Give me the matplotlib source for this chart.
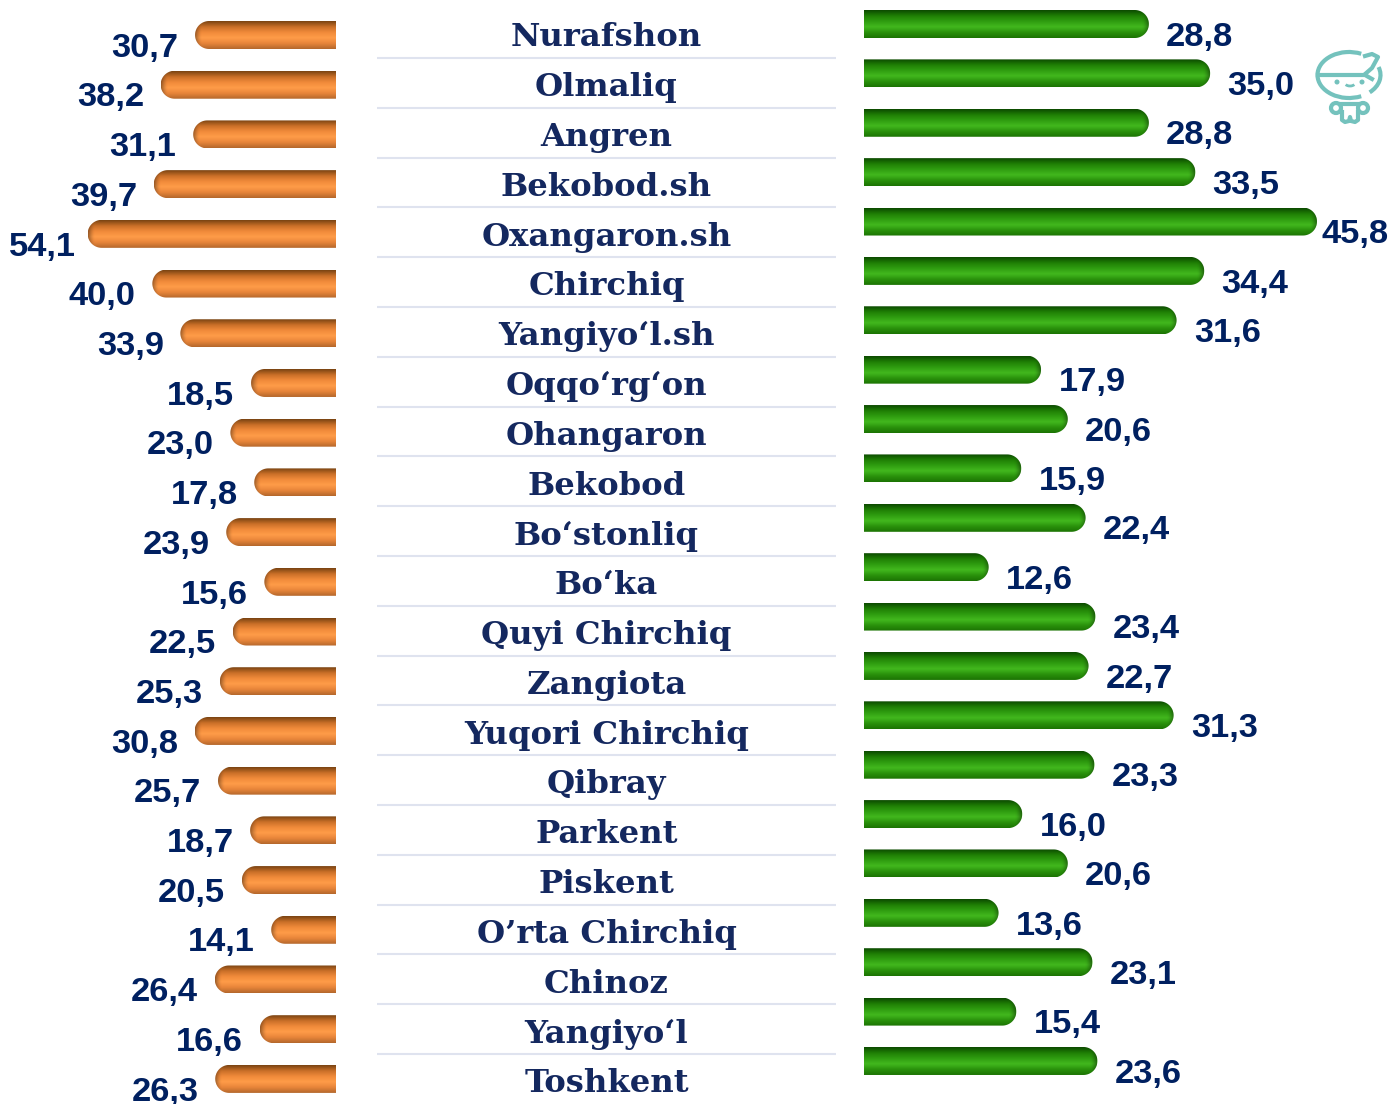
import numpy as np
import matplotlib
matplotlib.use("Agg")
import matplotlib.pyplot as plt
from matplotlib.colors import LinearSegmentedColormap
from matplotlib.patches import Polygon, Circle, Arc

districts = ["Nurafshon", "Olmaliq", "Angren", "Bekobod.sh", "Oxangaron.sh", "Chirchiq",
             "Yangiyo‘l.sh", "Oqqo‘rg‘on", "Ohangaron", "Bekobod", "Bo‘stonliq", "Bo‘ka",
             "Quyi Chirchiq", "Zangiota", "Yuqori Chirchiq", "Qibray", "Parkent", "Piskent",
             "O’rta Chirchiq", "Chinoz", "Yangiyo‘l", "Toshkent"]
left_values = [30.7, 38.2, 31.1, 39.7, 54.1, 40.0, 33.9, 18.5, 23.0, 17.8, 23.9,
               15.6, 22.5, 25.3, 30.8, 25.7, 18.7, 20.5, 14.1, 26.4, 16.6, 26.3]
right_values = [28.8, 35.0, 28.8, 33.5, 45.8, 34.4, 31.6, 17.9, 20.6, 15.9, 22.4,
                12.6, 23.4, 22.7, 31.3, 23.3, 16.0, 20.6, 13.6, 23.1, 15.4, 23.6]

W, H = 1391, 1104
NAVY = "#002060"

orange = LinearSegmentedColormap.from_list("o", ["#7a4412", "#c96f28", "#f08a3a", "#ff9c48", "#e8853a", "#b5682c"])
green = LinearSegmentedColormap.from_list("g", ["#0c4a00", "#1f7f05", "#2f9c10", "#42b81e", "#2a920c", "#1c7403"])
grad = np.linspace(0, 1, 64).reshape(-1, 1)
# darkens the rounded end of a bar
rim = np.zeros((1, 32, 4))
rim[0, :, 3] = np.linspace(0, 0.4, 32) ** 1.5 / 0.4 ** 0.5


def make_axes(x0, x1, xlim, top_y, row):
    ax = fig.add_axes([x0 / W, 0, (x1 - x0) / W, 1])
    ax.axis("off")
    ax.set_xlim(*xlim)
    # y is in row units so that row i sits at top_y + i * row pixels
    ax.set_ylim((H - top_y) / row, -top_y / row)
    return ax


def draw_bars(ax, values, cmap, px_per_unit, row):
    half = 14 / row
    rx = 14 / px_per_unit
    t = np.linspace(-np.pi / 2, np.pi / 2, 40)
    for i, v in enumerate(values):
        # square at the base, semicircle at the outer end
        xs = np.r_[0, v - rx + rx * np.cos(t), 0]
        ys = np.r_[i - half, i + half * np.sin(t), i + half]
        shape = Polygon(np.c_[xs, ys], closed=True, fc="none", ec="none")
        ax.add_patch(shape)
        im = ax.imshow(grad, cmap=cmap, aspect="auto", interpolation="bilinear",
                       extent=(0, v, i + half, i - half))
        im.set_clip_path(shape)
        end = ax.imshow(rim, aspect="auto", interpolation="bilinear",
                        extent=(v - 7 / px_per_unit, v, i + half, i - half))
        end.set_clip_path(shape)


def label(ax, v, i, dx, dy, ha):
    ax.annotate(f"{v:.1f}".replace(".", ","), (v, i), xytext=(dx, dy), textcoords="offset points",
                ha=ha, va="center", fontsize=24.8, fontweight="bold", color=NAVY,
                annotation_clip=False)


fig = plt.figure(figsize=(W / 100, H / 100), dpi=100)
plt.rcParams["font.family"] = ["Liberation Sans"]

# left panel, bars grow leftwards from x=336
LEFT_ROW = 49.71
ax_l = make_axes(0, 336, (336 / 4.59, 0), 35, LEFT_ROW)
draw_bars(ax_l, left_values, orange, 4.59, LEFT_ROW)
ax_l.set_xlim(336 / 4.59, 0)
ax_l.set_ylim((H - 35) / LEFT_ROW, -35 / LEFT_ROW)
for i, v in enumerate(left_values):
    # the longest bar has its label pushed closer
    label(ax_l, v, i, -8.5 if v == max(left_values) else -12, -9.5, "right")

# right panel, bars grow rightwards from x=864
RIGHT_ROW = 49.38
ax_r = make_axes(864, W, (0, (W - 864) / 9.89), 24, RIGHT_ROW)
draw_bars(ax_r, right_values, green, 9.89, RIGHT_ROW)
ax_r.set_xlim(0, (W - 864) / 9.89)
ax_r.set_ylim((H - 24) / RIGHT_ROW, -24 / RIGHT_ROW)
for i, v in enumerate(right_values):
    label(ax_r, v, i, 3 if v == max(right_values) else 12.5, -9.5, "left")

# district names with thin rules between them
NAME_ROW = 49.8
ax_m = make_axes(377, 836, (0, 1), 35, NAME_ROW)
for i, name in enumerate(districts):
    ax_m.text(0.5, i + 0.06, name, ha="center", va="center", fontsize=23.2, fontweight="bold",
              family="DejaVu Serif", color="#14285f")
    if i < len(districts) - 1:
        ax_m.plot([0, 1], [i + 0.46, i + 0.46], color="#dfe3ef", lw=1.5, solid_capstyle="butt")

# small mascot in the top right corner
ax_i = fig.add_axes([0, 0, 1, 1])
ax_i.set_xlim(0, W)
ax_i.set_ylim(H, 0)
ax_i.axis("off")
ax_i.patch.set_alpha(0)
TEAL = "#74c2bd"
ax_i.add_patch(Arc((1349, 75), 63, 46, theta1=60, theta2=300, color=TEAL, lw=3))
ax_i.add_patch(Arc((1349, 75), 63, 46, theta1=-15, theta2=40, color=TEAL, lw=3))
ax_i.plot([1318, 1364, 1372, 1378, 1372, 1365], [75, 75, 68, 57, 54, 56], color=TEAL, lw=3)
ax_i.plot([1365, 1372], [75, 79], color=TEAL, lw=3)
ax_i.add_patch(Arc((1350, 83), 10, 6, theta1=20, theta2=160, color=TEAL, lw=2))
ax_i.add_patch(Circle((1337, 82), 1.8, color=TEAL))
ax_i.add_patch(Circle((1362, 82), 1.8, color=TEAL))
ax_i.add_patch(Circle((1336, 108), 5, fc="none", ec=TEAL, lw=3))
ax_i.add_patch(Circle((1363, 108), 5, fc="none", ec=TEAL, lw=3))
ax_i.plot([1341, 1358], [104, 104], color=TEAL, lw=3)
ax_i.plot([1342, 1342, 1345, 1349, 1350, 1351, 1355, 1358, 1358],
          [112, 120, 122, 121, 117, 121, 122, 120, 112], color=TEAL, lw=3)

fig.savefig("out.png", dpi=100)
